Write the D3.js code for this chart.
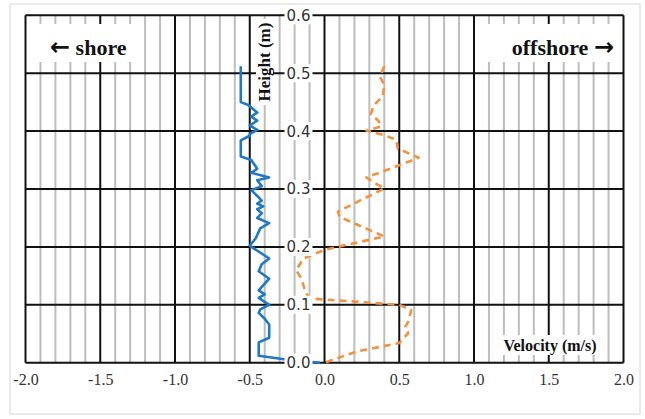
<!DOCTYPE html>
<html>
<head>
<meta charset="utf-8">
<script src="https://cdn.jsdelivr.net/npm/d3@7"></script>
<style>
  body { margin: 0; background: #fff; }
  svg { display: block; }
</style>
</head>
<body>
<div id="chart"></div>
<script>
// velocity profiles: heights (m) and velocities (m/s)
const blueHeight = [0.512, 0.450, 0.445, 0.432, 0.425, 0.418, 0.410, 0.402, 0.395, 0.392, 0.384, 0.356, 0.350,
  0.335, 0.328, 0.320, 0.315, 0.305, 0.298, 0.288, 0.280, 0.275, 0.270, 0.265, 0.258, 0.250, 0.241,
  0.232, 0.215, 0.202, 0.180, 0.170, 0.158, 0.145, 0.125, 0.118, 0.112, 0.100, 0.092, 0.086, 0.076,
  0.066, 0.043, 0.035, 0.012, 0.006, 0.000];
const blueVel = [-0.56, -0.56, -0.51, -0.45, -0.49, -0.45, -0.50, -0.45, -0.50, -0.50, -0.56, -0.56, -0.49,
  -0.45, -0.49, -0.37, -0.45, -0.42, -0.49, -0.45, -0.42, -0.45, -0.41, -0.45, -0.42, -0.45, -0.37,
  -0.43, -0.46, -0.50, -0.37, -0.42, -0.44, -0.37, -0.44, -0.40, -0.44, -0.37, -0.43, -0.44, -0.40,
  -0.37, -0.37, -0.44, -0.44, -0.27, -0.03];

const orangeHeight = [0.512, 0.494, 0.480, 0.460, 0.445, 0.430, 0.418, 0.408, 0.401, 0.393, 0.385, 0.370,
  0.354, 0.336, 0.320, 0.313, 0.301, 0.261, 0.252, 0.218, 0.195, 0.180, 0.160, 0.143, 0.123, 0.111,
  0.100, 0.091, 0.071, 0.062, 0.051, 0.034, 0.019, 0.000];
const orangeVel = [0.40, 0.37, 0.40, 0.39, 0.33, 0.31, 0.36, 0.38, 0.28, 0.40, 0.48, 0.49,
  0.63, 0.45, 0.28, 0.32, 0.40, 0.09, 0.10, 0.40, 0.00, -0.14, -0.19, -0.15, -0.13, -0.10,
  0.50, 0.58, 0.56, 0.54, 0.56, 0.50, 0.21, 0.00];

const xTicks = [-2.0, -1.5, -1.0, -0.5, 0.0, 0.5, 1.0, 1.5, 2.0];
const yTicks = [0.0, 0.1, 0.2, 0.3, 0.4, 0.5, 0.6];

const W = 645, H = 419;
const svg = d3.select("#chart").append("svg")
    .attr("width", W)
    .attr("height", H);

const x = d3.scaleLinear().domain([-2, 2]).range([25.5, 623.5]);
const y = d3.scaleLinear().domain([0, 0.6]).range([362.7, 15.3]);

// faint outer frame
svg.append("rect")
    .attr("x", 10).attr("y", 4)
    .attr("width", 630).attr("height", 410)
    .attr("fill", "none")
    .attr("stroke", "#e4e4e4")
    .attr("stroke-width", 1.5);

const grid = svg.append("g");

// minor vertical lines every 0.1
const minor = d3.range(-19, 20).map(d => d / 10).filter(d => Math.abs(d * 2 - Math.round(d * 2)) > 1e-6);
grid.selectAll(".minor").data(minor).enter().append("line")
    .attr("x1", d => x(d)).attr("x2", d => x(d))
    .attr("y1", y(0.6)).attr("y2", y(0))
    .attr("stroke", "#bdbdbd")
    .attr("stroke-width", 2);

// major vertical lines every 0.5
grid.selectAll(".majorx").data(xTicks).enter().append("line")
    .attr("x1", d => x(d)).attr("x2", d => x(d))
    .attr("y1", y(0.6)).attr("y2", y(0))
    .attr("stroke", "#111")
    .attr("stroke-width", 2);

// horizontal lines every 0.1
grid.selectAll(".majory").data(yTicks).enter().append("line")
    .attr("x1", x(-2)).attr("x2", x(2))
    .attr("y1", d => y(d)).attr("y2", d => y(d))
    .attr("stroke", "#111")
    .attr("stroke-width", 2);

// corner labels with white boxes
function boxedText(bx, by, bw, bh) {
  svg.append("rect").attr("x", bx).attr("y", by).attr("width", bw).attr("height", bh).attr("fill", "#fff");
  return svg.append("text")
      .attr("font-family", "'Liberation Serif', 'DejaVu Serif', serif")
      .attr("font-weight", "bold")
      .attr("fill", "#111");
}
const arrowFont = "'DejaVu Sans', sans-serif";

const shore = boxedText(36, 24, 108, 38)
    .attr("x", 50).attr("y", 55)
    .attr("font-size", 22);
shore.append("tspan").text("\u2190").attr("font-family", arrowFont).attr("font-size", 24);
shore.append("tspan").text(" shore");

const off = boxedText(478, 24, 143, 38)
    .attr("x", 614).attr("y", 55)
    .attr("text-anchor", "end")
    .attr("font-size", 22);
off.append("tspan").text("offshore ");
off.append("tspan").text("\u2192").attr("font-family", arrowFont).attr("font-size", 24);

boxedText(490, 335, 116, 20)
    .text("Velocity (m/s)")
    .attr("x", 550).attr("y", 351)
    .attr("text-anchor", "middle")
    .attr("font-size", 16);

// profiles
const line = d3.line()
    .x(d => x(d[1]))
    .y(d => y(d[0]));

svg.append("path")
    .datum(blueHeight.map((h, i) => [h, blueVel[i]]))
    .attr("d", line)
    .attr("fill", "none")
    .attr("stroke", "#1f78c8")
    .attr("stroke-width", 2.6)
    .attr("stroke-linejoin", "round");

svg.append("path")
    .datum(orangeHeight.map((h, i) => [h, orangeVel[i]]))
    .attr("d", line)
    .attr("fill", "none")
    .attr("stroke", "#f5913e")
    .attr("stroke-width", 2.6)
    .attr("stroke-dasharray", "7,5")
    .attr("stroke-linejoin", "round");

// y axis title
const ht = svg.append("g").attr("transform", "translate(265,62) rotate(-90)");
ht.append("rect").attr("x", -43).attr("y", -9).attr("width", 86).attr("height", 17).attr("fill", "#fff");
ht.append("text").text("Height (m)")
    .attr("text-anchor", "middle")
    .attr("y", 5)
    .attr("font-family", "'Liberation Serif', serif")
    .attr("font-weight", "bold")
    .attr("font-size", 17)
    .attr("fill", "#111");

// y tick labels sitting on the zero line
const yl = svg.append("g").selectAll("g").data(yTicks).enter().append("g")
    .attr("transform", d => `translate(${x(0) - 26},${y(d)})`);
yl.append("rect").attr("x", -14).attr("y", -9).attr("width", 28).attr("height", 18).attr("fill", "#fff");
yl.append("text").text(d => d3.format(".1f")(d))
    .attr("text-anchor", "middle")
    .attr("dy", "0.36em")
    .attr("font-family", "'DejaVu Sans', sans-serif")
    .attr("font-size", 15)
    .attr("fill", "#333");

// x axis labels
const xAxis = d3.axisBottom(x).tickValues(xTicks).tickSize(0).tickPadding(11).tickFormat(d3.format(".1f"));
const xg = svg.append("g")
    .attr("transform", `translate(0,${y(0)})`)
    .call(xAxis);
xg.select(".domain").remove();
xg.selectAll("text")
    .attr("font-family", "'Liberation Serif', serif")
    .attr("font-size", 16)
    .attr("fill", "#333")
    .text(d => d3.format(".1f")(d).replace("\u2212", "-"));
</script>
</body>
</html>
